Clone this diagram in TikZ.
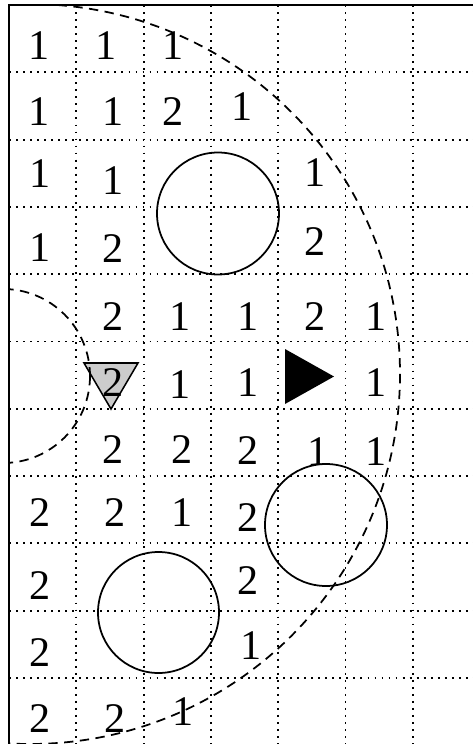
\documentclass[tikz,border=0pt]{standalone}
\usepackage{fontspec}
\setmainfont{Liberation Serif}
\begin{document}
\begin{tikzpicture}[x=0.03cm,y=-0.03cm,
  gridline/.style={line width=1.6pt,dash pattern=on 1.6pt off 4.4pt},
  frameline/.style={line width=1.8pt},
  ring/.style={circle,draw,line width=1.5pt,inner sep=0pt},
  arcline/.style={line width=1.5pt,dash pattern=on 8pt off 5.5pt},
  num/.style={inner sep=0pt,font=\fontsize{36}{40}\selectfont}]
\useasboundingbox (0,0) rectangle (473,744);
% dotted grid
\foreach \gx [count=\i] in {76.3,143.6,210.9,278.2,345.5,412.8}
  \draw[gridline] (\gx,5) -- (\gx,744);
\foreach \gy [count=\i] in {72.3,139.6,206.9,274.2,341.5,408.8,476.1,543.4,610.7,678}
  \draw[gridline] (9,\gy) -- (473,\gy);
% frame
\draw[frameline] (9,744) -- (9,5) -- (473,5);
% circles
\node[ring,minimum size=3.66cm] (cA) at (218,213.5) {};
\node[ring,minimum size=3.66cm] (cB) at (326,525) {};
\node[ring,minimum size=3.63cm] (cC) at (158.5,612.5) {};
% triangles
\draw[line width=1.3pt,fill=gray!40] (84,363) -- (138,363) -- (111,409) -- cycle;
\fill[black] (285,349) -- (285,404) -- (334,376.5) -- cycle;
% dashed arcs
\begin{scope}
  \clip (9,5) rectangle (473,744);
  \draw[arcline] (30,374) circle[radius=370];
  \draw[arcline] (3,376) circle[radius=87];
\end{scope}
% numbers
\node[num] (n00) at (39,46) {1};
\node[num] (n01) at (106,46) {1};
\node[num] (n02) at (173,46) {1};
\node[num] (n10) at (39,112) {1};
\node[num] (n11) at (113,112) {1};
\node[num] (n12) at (173,112) {2};
\node[num] (n13) at (242,107) {1};
\node[num] (n20) at (40,174) {1};
\node[num] (n21) at (113,181) {1};
\node[num] (n24) at (315,173) {1};
\node[num] (n30) at (40,248) {1};
\node[num] (n31) at (113,249) {2};
\node[num] (n34) at (315,242) {2};
\node[num] (n41) at (113,317) {2};
\node[num] (n42) at (180,317) {1};
\node[num] (n43) at (248,317) {1};
\node[num] (n44) at (315,317) {2};
\node[num] (n45) at (376,317) {1};
\node[num] (n51) at (113,383) {2};
\node[num] (n52) at (180,385) {1};
\node[num] (n53) at (248,383) {1};
\node[num] (n55) at (376,383) {1};
\node[num] (n61) at (113,450) {2};
\node[num] (n62) at (182,450) {2};
\node[num] (n63) at (248,451) {2};
\node[num] (n64) at (318,452) {1};
\node[num] (n65) at (376,452) {1};
\node[num] (n70) at (40,513) {2};
\node[num] (n71) at (115,513) {2};
\node[num] (n72) at (182,513) {1};
\node[num] (n73) at (248,518) {2};
\node[num] (n80) at (40,586) {2};
\node[num] (n83) at (248,581) {2};
\node[num] (n90) at (40,653) {2};
\node[num] (n93) at (251,646) {1};
\node[num] (n100) at (40,719) {2};
\node[num] (n101) at (115,719) {2};
\node[num] (n102) at (183,712) {1};
\end{tikzpicture}
\end{document}
